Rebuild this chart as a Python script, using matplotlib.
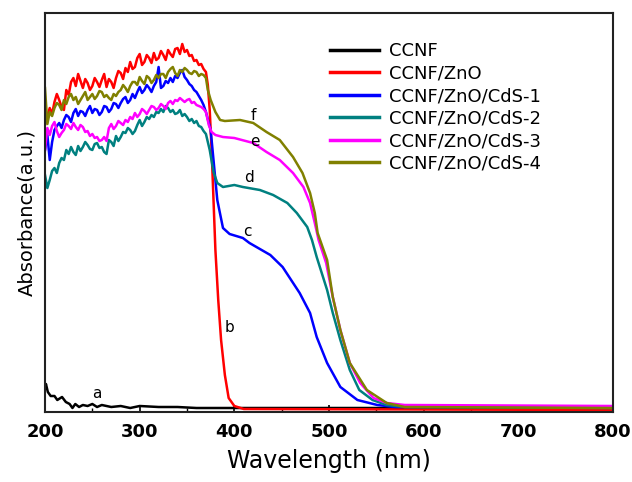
import numpy as np
import matplotlib
matplotlib.use('Agg')
import matplotlib.pyplot as plt
from matplotlib.ticker import MultipleLocator

# spectra (absorbance in arbitrary units)
# noisy UV part, 200-370 nm every 2.5 nm
wl_uv = np.arange(200, 372.5, 2.5)

uv_b = [287, 296, 304, 298, 310, 318, 312, 305, 302, 322, 317, 330, 334, 326, 338, 331, 324, 333, 329, 322,
        326, 334, 330, 325, 332, 338, 325, 333, 330, 324, 334, 341, 339, 333, 344, 340, 350, 343, 345, 354,
        358, 347, 350, 357, 354, 349, 359, 352, 354, 361, 357, 352, 362, 358, 355, 363, 364, 358, 368, 360,
        362, 356, 357, 351, 352, 347, 348, 343, 340]
uv_c = [262, 277, 252, 270, 282, 286, 289, 284, 292, 297, 295, 290, 299, 303, 296, 301, 300, 296, 302, 306,
        299, 303, 302, 297, 300, 306, 305, 300, 303, 309, 308, 304, 309, 313, 315, 309, 312, 318, 314, 320,
        325, 319, 322, 327, 324, 320, 326, 330, 345, 324, 326, 331, 329, 334, 330, 336, 334, 339, 342, 335,
        332, 328, 326, 322, 320, 316, 312, 307, 300]
uv_d = [237, 224, 232, 241, 244, 239, 249, 254, 252, 262, 258, 265, 260, 257, 266, 261, 265, 270, 267, 263,
        262, 268, 269, 264, 265, 260, 258, 272, 270, 266, 276, 271, 275, 280, 279, 284, 282, 278, 281, 287,
        292, 286, 290, 295, 293, 297, 295, 300, 299, 303, 300, 306, 304, 300, 302, 298, 299, 302, 296, 298,
        295, 291, 293, 289, 291, 286, 285, 281, 278]
uv_e = [262, 284, 277, 286, 290, 281, 275, 279, 282, 288, 286, 283, 289, 285, 282, 287, 285, 280, 281, 276,
        278, 274, 275, 271, 272, 275, 271, 284, 288, 283, 286, 291, 289, 287, 292, 290, 295, 293, 299, 295,
        298, 303, 301, 298, 302, 306, 305, 302, 304, 308, 306, 303, 309, 311, 308, 312, 311, 314, 312, 310,
        312, 313, 309, 310, 307, 306, 305, 303, 300]
uv_f = [324, 288, 300, 296, 304, 309, 307, 302, 312, 308, 315, 318, 312, 315, 308, 312, 316, 320, 312, 315,
        318, 313, 316, 321, 320, 315, 317, 314, 312, 318, 316, 320, 322, 327, 324, 320, 326, 330, 330, 327,
        335, 331, 328, 336, 334, 329, 332, 337, 334, 338, 338, 334, 340, 343, 345, 339, 336, 342, 340, 344,
        342, 339, 338, 341, 340, 336, 338, 337, 334]

# edge and visible part, after 370 nm
vis_wl_b = [372, 374, 376, 378, 380, 383, 386, 390, 394, 400, 410, 800]
vis_b = [327, 302, 262, 212, 162, 112, 72, 37, 14, 6, 3, 2]
vis_wl_c = [375, 378, 382, 388, 395, 409, 416, 438, 451, 469, 480, 487, 498, 512, 530, 551, 570, 800]
vis_c = [282, 252, 212, 184, 178, 174, 169, 157, 145, 119, 99, 75, 49, 25, 12, 7, 5, 5]
vis_wl_d = [374, 378, 382, 388, 400, 409, 427, 441, 456, 466, 477, 482, 487, 498, 504, 512, 522, 532, 546, 561, 580, 800]
vis_d = [262, 240, 229, 225, 227, 225, 222, 217, 209, 199, 185, 172, 155, 122, 99, 72, 42, 22, 12, 7, 5, 4]
vis_wl_e = [373, 376, 380, 388, 400, 420, 434, 448, 462, 473, 480, 485, 489, 497, 504, 512, 522, 533, 547, 561, 580, 800]
vis_e = [287, 280, 277, 275, 274, 269, 260, 252, 239, 225, 209, 189, 172, 149, 115, 82, 49, 29, 14, 9, 7, 6]
vis_wl_f = [372, 375, 380, 385, 390, 406, 420, 434, 448, 462, 472, 480, 485, 488, 498, 504, 512, 522, 540, 561, 580, 800]
vis_f = [322, 312, 300, 292, 291, 292, 289, 280, 272, 255, 239, 219, 199, 179, 152, 115, 82, 49, 22, 9, 5, 4]

# bare CCNF, almost flat
wl_a = [200, 201, 203, 206, 210, 213, 218, 222, 226, 229, 232, 236, 240, 245, 250, 255, 260, 270, 280, 290, 300, 320, 340, 360, 400, 800]
abs_a = [24, 28, 20, 16, 16, 12, 15, 10, 8, 4, 8, 5, 7, 6, 8, 5, 7, 5, 6, 4, 6, 5, 5, 4, 4, 4]

names = ['CCNF', 'CCNF/ZnO', 'CCNF/ZnO/CdS-1', 'CCNF/ZnO/CdS-2', 'CCNF/ZnO/CdS-3', 'CCNF/ZnO/CdS-4']
letters = ['a', 'b', 'c', 'd', 'e', 'f']
colors = ['black', 'red', 'blue', '#008080', 'magenta', '#808000']

series = [(wl_a, abs_a)]
for uv, vwl, vis in [(uv_b, vis_wl_b, vis_b), (uv_c, vis_wl_c, vis_c), (uv_d, vis_wl_d, vis_d),
                     (uv_e, vis_wl_e, vis_e), (uv_f, vis_wl_f, vis_f)]:
    series.append((np.concatenate([wl_uv, vwl]), np.concatenate([uv, vis])))

# where the letters sit (wavelength, absorbance)
letter_pos = [(255, 19), (395, 84), (414, 180), (416, 234), (422, 270), (420, 297)]

fig = plt.figure(figsize=(6.32, 4.82), dpi=100)
ax = fig.add_axes([45 / 632, 70 / 482, 568 / 632, 399 / 482])

for (x, y), name, c in zip(series, names, colors):
    ax.plot(x, y, color=c, lw=1.8, label=name)

for (lx, ly), t in zip(letter_pos, letters):
    ax.text(lx, ly, t, fontsize=11, ha='center', va='center')

ax.set_xlim(200, 800)
ax.set_ylim(0, 399)
ax.set_yticks([])
ax.xaxis.set_major_locator(MultipleLocator(100))
ax.xaxis.set_minor_locator(MultipleLocator(50))
ax.tick_params(axis='x', which='major', direction='in', length=5, width=1.2, pad=8)
ax.tick_params(axis='x', which='minor', direction='in', length=3, width=1.0)
for lab in ax.get_xticklabels():
    lab.set_fontweight('bold')
    lab.set_fontsize(13)
for s in ax.spines.values():
    s.set_linewidth(1.5)
    s.set_color('#222222')

ax.set_xlabel('Wavelength (nm)', fontsize=17, labelpad=6)
ax.set_ylabel('Absorbance(a.u.)', fontsize=14, labelpad=6)

leg = ax.legend(loc='upper left', bbox_to_anchor=(0.489, 0.945), frameon=False, fontsize=13,
                handlelength=2.7, handletextpad=0.55, labelspacing=0.25, borderaxespad=0)
for h in leg.get_lines():
    h.set_linewidth(2.5)

plt.savefig('out.png', dpi=100)
